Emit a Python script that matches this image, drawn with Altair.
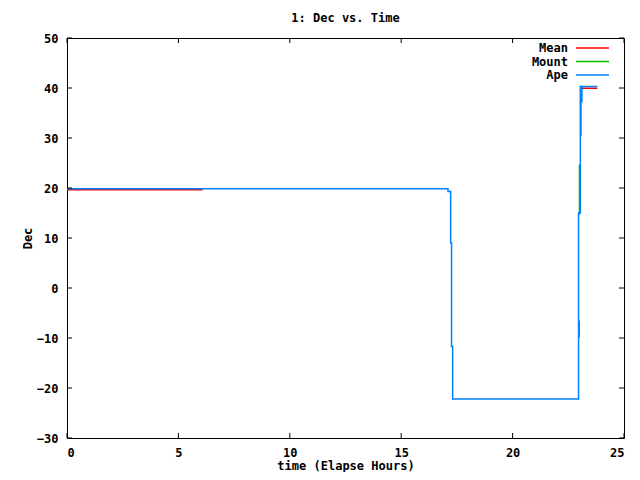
import altair as alt
import pandas as pd

# ---- data ----
mean_x = [[0.0, 6.08], [23.09, 23.81]]
mean_y = [[19.65, 19.65], [39.95, 39.95]]

# Mount is hidden under Ape except for the pieces that show at the final climb
mount_x = [[22.99, 22.99], [23.00, 23.00], [23.07, 23.07, 23.12]]
mount_y = [[-9.9, -6.5], [14.7, 24.7], [30.4, 40.3, 40.3]]

ape_x = [0.0, 17.10, 17.10, 17.22, 17.22, 17.26, 17.26, 17.31, 17.31, 22.96, 22.96, 23.04, 23.04,
         23.11, 23.11, 23.11, 23.81]
ape_y = [19.85, 19.85, 19.3, 19.3, 9.0, 9.0, -11.7, -11.7, -22.2, -22.2, 15.0, 15.0, 40.3,
         40.3, 37.1, 40.3, 40.3]

series_names = ["Mean", "Mount", "Ape"]
series_colors = ["#ff0000", "#00c000", "#0080ff"]

x_ticks = [0, 5, 10, 15, 20, 25]
y_ticks = [-30, -20, -10, 0, 10, 20, 30, 40, 50]

FONT = "DejaVu Sans Mono"
W, H = 557, 400


def frame(name, xs_list, ys_list):
    rows = []
    for s, (xs, ys) in enumerate(zip(xs_list, ys_list)):
        for i, (x, y) in enumerate(zip(xs, ys)):
            rows.append({"series": name, "seg": s, "i": i, "t": x, "dec": y})
    return pd.DataFrame(rows)


mean_df = frame("Mean", mean_x, mean_y)
mount_df = frame("Mount", mount_x, mount_y)
ape_df = frame("Ape", [ape_x], [ape_y])

xscale = alt.Scale(domain=[0, 25], nice=False, zero=False)
yscale = alt.Scale(domain=[-30, 50], nice=False, zero=False)

xaxis = alt.Axis(title="time (Elapse Hours)", values=x_ticks, ticks=False, tickSize=0,
                 domain=False, grid=False, labelPadding=9, titleY=27, titleBaseline="middle",
                 titlePadding=0)
yaxis = alt.Axis(title="Dec", values=y_ticks, ticks=False, tickSize=0, domain=False,
                 grid=False, labelPadding=9, titleX=-40, titleY=H / 2, titleAngle=-90,
                 titleBaseline="middle", titleAlign="center", labelBaseline="middle")

XENC = alt.X("t:Q", scale=xscale, axis=xaxis)
YENC = alt.Y("dec:Q", scale=yscale, axis=yaxis)


def line_layer(df, color, sw):
    return alt.Chart(df).mark_line(strokeWidth=sw, color=color, clip=True).encode(
        x=XENC, y=YENC, detail="seg:N", order="i:Q",
    )


layers = [
    line_layer(mean_df, series_colors[0], 1.5),
    line_layer(mount_df, series_colors[1], 1.5),
    line_layer(ape_df, series_colors[2], 1.5),
]

# inward tick marks on all four sides (gnuplot style)
xt = pd.DataFrame({"t": x_ticks})
yt = pd.DataFrame({"dec": y_ticks})
TL = 5
layers.append(alt.Chart(xt).mark_rule(color="black", strokeWidth=1).encode(
    x=XENC, y=alt.value(H), y2=alt.value(H - TL)))
layers.append(alt.Chart(xt).mark_rule(color="black", strokeWidth=1).encode(
    x=XENC, y=alt.value(0), y2=alt.value(TL)))
layers.append(alt.Chart(yt).mark_rule(color="black", strokeWidth=1).encode(
    y=YENC, x=alt.value(0), x2=alt.value(TL)))
layers.append(alt.Chart(yt).mark_rule(color="black", strokeWidth=1).encode(
    y=YENC, x=alt.value(W - TL), x2=alt.value(W)))

# chart title as a text mark above the plot
td = pd.DataFrame({"title": ["1: Dec vs. Time"]})
layers.append(alt.Chart(td).mark_text(align="center", baseline="middle", font=FONT,
                                      fontSize=12, fontWeight="bold", color="black").encode(
    text="title:N", x=alt.value(W / 2), y=alt.value(-20)))

# legend, gnuplot style: label then line sample
for k, (name, col) in enumerate(zip(series_names, series_colors)):
    ypos = 10 + 13.5 * k
    ld = pd.DataFrame({"name": [name]})
    layers.append(alt.Chart(ld).mark_text(align="right", baseline="middle", font=FONT,
                                          fontSize=12, fontWeight="bold", color="black").encode(
        text="name:N", x=alt.value(501), y=alt.value(ypos)))
    layers.append(alt.Chart(ld).mark_rule(color=col, strokeWidth=1.5).encode(
        x=alt.value(509), x2=alt.value(542), y=alt.value(ypos)))

chart = alt.layer(*layers).properties(
    width=W,
    height=H,
    autosize=alt.AutoSizeParams(type="none"),
    padding={"left": 59, "top": 30, "right": 8, "bottom": 34},
).configure_view(
    stroke="black", strokeWidth=1
).configure_axis(
    labelFont=FONT, labelFontSize=12, labelFontWeight="bold", labelColor="black",
    titleFont=FONT, titleFontSize=12, titleFontWeight="bold", titleColor="black",
)

chart.save("out.html", embed_options={"renderer": "svg", "actions": False})
